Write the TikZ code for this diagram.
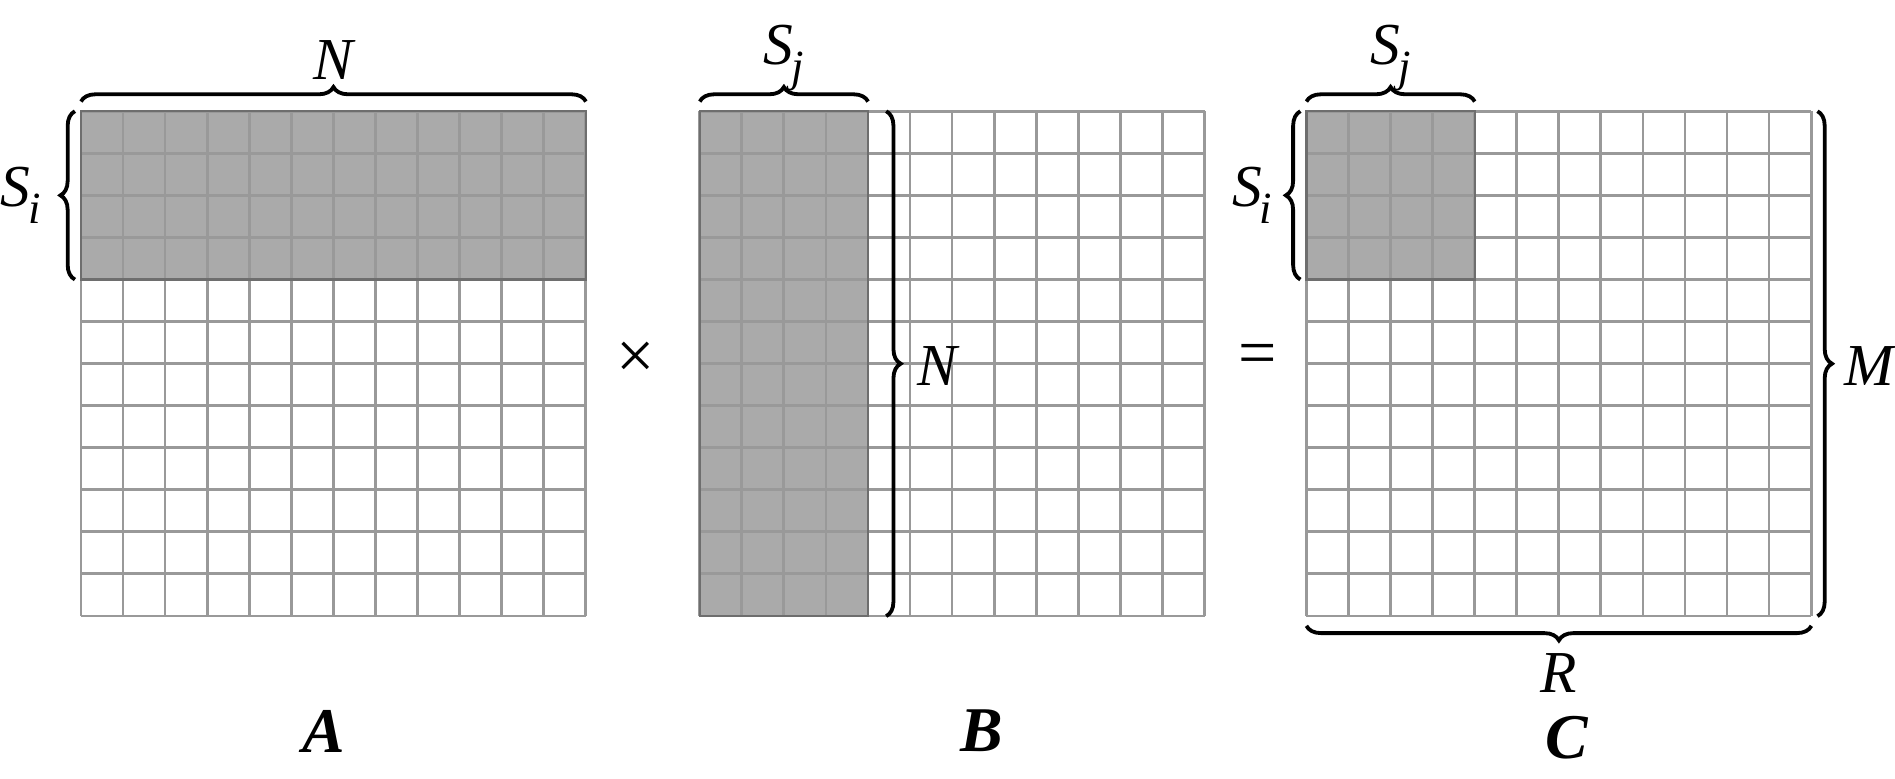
\documentclass[tikz,border=0pt]{standalone}
\usepackage{fontspec}
\setmainfont{Liberation Serif}
\usetikzlibrary{decorations.pathreplacing,calc}
\definecolor{gridgray}{RGB}{153,153,153}
\definecolor{shadegray}{RGB}{170,170,170}
\definecolor{shadeedge}{RGB}{110,110,110}
\newcommand{\sub}[2]{\textit{#1}\kern-0.5pt\raisebox{-0.28em}{\fontsize{10.5}{11}\selectfont\textit{#2}}}
\begin{document}
\begin{tikzpicture}[x=0.01cm,y=-0.01cm,
  gridline/.style={draw=gridgray,line width=0.65pt},
  mat/.style={minimum width=4.176cm,minimum height=4.176cm,inner sep=0,outer sep=0,draw=none},
  shadebox/.style={fill=shadegray,inner sep=0,outer sep=0,anchor=north west},
  edgebox/.style={draw=shadeedge,line width=0.5pt},
  bracel/.style={decorate,decoration={brace,amplitude=0.12cm},line width=0.9pt},
  lbl/.style={font=\fontsize{14}{16}\selectfont\itshape,inner sep=0},
  big/.style={font=\fontsize{15}{18}\selectfont\bfseries\itshape,inner sep=0},
  op/.style={font=\fontsize{16}{18}\selectfont,inner sep=0}]
\useasboundingbox (0,0) rectangle (1568,644);
% matrices
\node[mat,anchor=north west] (A) at (67,92) {};
\node[mat,anchor=north west] (B) at (579,92) {};
\node[mat,anchor=north west] (C) at (1081,92) {};
% shaded blocks
\node[shadebox,minimum width=4.176cm,minimum height=1.392cm] (As) at (A.north west) {};
\node[shadebox,minimum width=1.392cm,minimum height=4.176cm] (Bs) at (B.north west) {};
\node[shadebox,minimum width=1.392cm,minimum height=1.392cm] (Cs) at (C.north west) {};
% grids
\foreach \M in {A,B,C}{
  \foreach \k in {0,...,12}{
    \draw[gridline] ($(\M.north west)+(\k*34.8,0)$) -- ($(\M.south west)+(\k*34.8,0)$);
    \draw[gridline] ($(\M.north west)+(0,\k*34.8)$) -- ($(\M.north east)+(0,\k*34.8)$);
  }
}
\draw[edgebox] (As.north west) rectangle (As.south east);
\draw[edgebox] (Bs.north west) rectangle (Bs.south east);
\draw[edgebox] (Cs.north west) rectangle (Cs.south east);
% braces for A
\draw[bracel] ($(A.north west)+(0,-8)$) -- ($(A.north east)+(0,-8)$);
\node[lbl] (nA) at ($(A.north)+(0,-42)$) {N};
\draw[bracel] ($(As.south west)+(-5,0)$) -- ($(As.north west)+(-5,0)$);
\node[lbl] (siA) at ($(As.west)+(-50,0)$) {\sub{S}{i}};
% braces for B
\draw[bracel] ($(Bs.north west)+(0,-8)$) -- ($(Bs.north east)+(0,-8)$);
\node[lbl] (sjB) at ($(Bs.north)+(0,-44)$) {\sub{S}{j}};
\draw[bracel] ($(Bs.north east)+(15,0)$) -- ($(Bs.south east)+(15,0)$);
\node[lbl] (nB) at ($(Bs.east)+(57,2)$) {N};
% braces for C
\draw[bracel] ($(Cs.north west)+(0,-8)$) -- ($(Cs.north east)+(0,-8)$);
\node[lbl] (sjC) at ($(Cs.north)+(0,-44)$) {\sub{S}{j}};
\draw[bracel] ($(Cs.south west)+(-5,0)$) -- ($(Cs.north west)+(-5,0)$);
\node[lbl] (siC) at ($(Cs.west)+(-45,0)$) {\sub{S}{i}};
\draw[bracel] ($(C.north east)+(5,0)$) -- ($(C.south east)+(5,0)$);
\node[lbl] (mC) at ($(C.east)+(48,2)$) {M};
\draw[bracel] ($(C.south east)+(0,8)$) -- ($(C.south west)+(0,8)$);
\node[lbl] (rC) at ($(C.south)+(0,47)$) {R};
% operators
\node[op] (times) at (526,298) {×};
\node[op] (eq) at (1041,298) {=};
% names
\node[big] (la) at (268,605) {A};
\node[big] (lb) at (812,605) {B};
\node[big] (lc) at (1296,610) {C};
\end{tikzpicture}
\end{document}
